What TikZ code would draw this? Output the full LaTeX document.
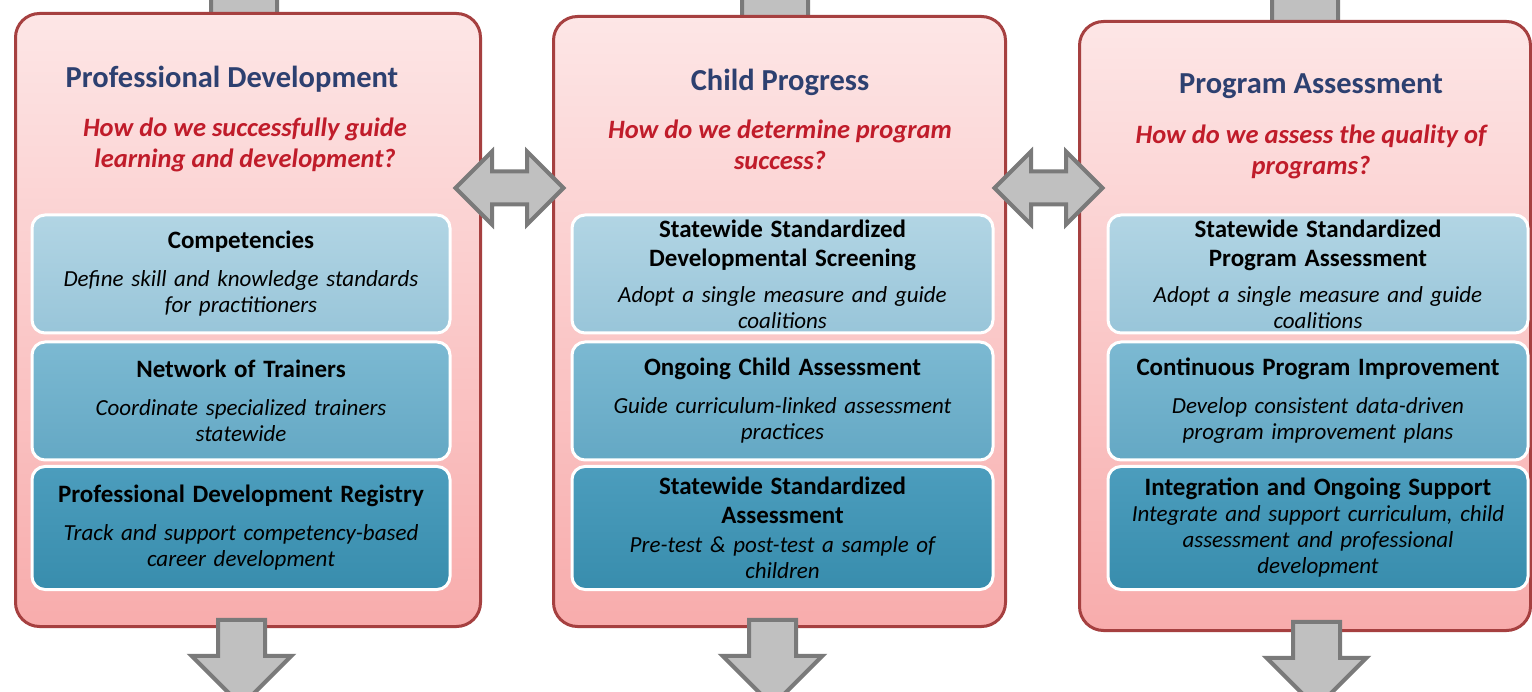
\documentclass[tikz,border=0pt]{standalone}
\usepackage{fontspec}
\setmainfont{Carlito}
\usetikzlibrary{shapes.arrows,positioning,calc}

\definecolor{ttlblue}{RGB}{45,64,112}
\definecolor{qred}{RGB}{192,28,42}
\definecolor{pnltop}{RGB}{253,230,230}
\definecolor{pnlbot}{RGB}{248,172,172}
\definecolor{pnlline}{RGB}{166,64,64}
\definecolor{boxatop}{RGB}{178,213,228}
\definecolor{boxabot}{RGB}{152,197,217}
\definecolor{boxbtop}{RGB}{124,185,210}
\definecolor{boxbbot}{RGB}{100,168,196}
\definecolor{boxctop}{RGB}{76,157,189}
\definecolor{boxcbot}{RGB}{56,141,173}
\definecolor{arrfill}{RGB}{192,192,192}
\definecolor{arrline}{RGB}{122,122,122}

\newcommand{\itemhead}[1]{{\fontsize{25}{29}\selectfont\bfseries #1\par}}
\newcommand{\itemtext}[1]{{\itshape #1\par}}

\begin{document}
\begin{tikzpicture}[x=1pt,y=-1pt,node distance=127pt,
    panel/.style={draw=pnlline,line width=3pt,rounded corners=24pt,
      top color=pnltop,bottom color=pnlbot,inner sep=0pt},
    ttl/.style={text=ttlblue,font=\fontsize{30.5}{34}\selectfont\bfseries},
    quest/.style={text=qred,align=center,
      font=\fontsize{26.5}{31}\selectfont\bfseries\itshape},
    item/.style={draw=white,line width=3pt,rounded corners=13pt,
      text width=412pt,align=center,inner sep=2pt,
      minimum width=418pt,minimum height=118pt,
      font=\fontsize{23}{26}\selectfont},
    itema/.style={item,top color=boxatop,bottom color=boxabot},
    itemb/.style={item,top color=boxbtop,bottom color=boxbbot},
    itemc/.style={item,top color=boxctop,bottom color=boxcbot,minimum height=123pt},
    dbl/.style={double arrow,draw=arrline,fill=arrfill,line width=4pt,
      inner sep=14.5pt,double arrow head extend=20pt,minimum height=108pt},
    down/.style={single arrow,shape border rotate=270,draw=arrline,
      fill=arrfill,line width=4pt,inner sep=21.5pt,
      single arrow head extend=26.5pt,minimum height=86pt},
    downin/.style={down,inner sep=31pt,single arrow head extend=16pt,
      minimum height=100pt}]
  \useasboundingbox[fill=white] (0,0) rectangle (1532,692);

  % arrows coming in from above
  \node[downin] (pdin) at (244,25) {};
  \node[downin] (cpin) at (775,25) {};
  \node[downin] (pain) at (1305,25) {};

  % the three columns
  \node[panel,minimum width=465pt,minimum height=613pt] (pd) at (248,320) {};
  \node[panel,minimum width=452pt,minimum height=610pt] (cp) at (779.5,321.5) {};
  \node[panel,minimum width=451pt,minimum height=609pt] (pa) at (1305,326) {};

  \node[ttl] (pdt) at (232,79) {Professional Development};
  \node[quest] (pdq) at (245,145) {How do we successfully guide\\learning and development?};
  \node[ttl] (cpt) at (780,82) {Child Progress};
  \node[quest] (cpq) at (780,145) {How do we determine program\\success?};
  \node[ttl] (pat) at (1311,86) {Program Assessment};
  \node[quest] (paq) at (1311,152) {How do we assess the quality of\\programs?};

  % left column
  \node[itema] (pd1) at (241,274) {\itemhead{Competencies}\vspace{12pt}
    \itemtext{Define skill and knowledge standards\\for practitioners}};
  \node[itemb] (pd2) [below of=pd1] {\itemhead{Network of Trainers}\vspace{12pt}
    \itemtext{Coordinate specialized trainers\\statewide}};
  \node[itemc] (pd3) [below of=pd2] {\itemhead{Professional Development Registry}\vspace{12pt}
    \itemtext{Track and support competency-based\\career development}};

  % middle column
  \node[itema,minimum width=421pt] (cp1) at (782.5,274) {\itemhead{Statewide Standardized\\Developmental Screening}\vspace{10pt}
    \itemtext{Adopt a single measure and guide\\coalitions}};
  \node[itemb,minimum width=421pt] (cp2) [below of=cp1] {\itemhead{Ongoing Child Assessment}\vspace{12pt}
    \itemtext{Guide curriculum-linked assessment\\practices}};
  \node[itemc,minimum width=421pt] (cp3) [below of=cp2] {\itemhead{Statewide Standardized\\Assessment}\vspace{3pt}
    \itemtext{Pre-test \& post-test a sample of\\children}};

  % right column
  \node[itema,minimum width=420pt] (pa1) at (1318,274) {\itemhead{Statewide Standardized\\Program Assessment}\vspace{10pt}
    \itemtext{Adopt a single measure and guide\\coalitions}};
  \node[itemb,minimum width=420pt] (pa2) [below of=pa1] {\itemhead{Continuous Program Improvement}\vspace{12pt}
    \itemtext{Develop consistent data-driven\\program improvement plans}};
  \node[itemc,minimum width=420pt] (pa3) [below of=pa2] {\itemhead{Integration and Ongoing Support}
    \itemtext{Integrate and support curriculum, child\\assessment and professional\\development}};

  % links between columns
  \node[dbl] (pdcp) at (509.5,188) {};
  \node[dbl] (cppa) at (1048.5,188) {};

  % arrows going out below
  \node[down] (pdout) at (241.5,651) {};
  \node[down] (cpout) at (772.5,651) {};
  \node[down] (paout) at (1316.5,653) {};
\end{tikzpicture}
\end{document}
